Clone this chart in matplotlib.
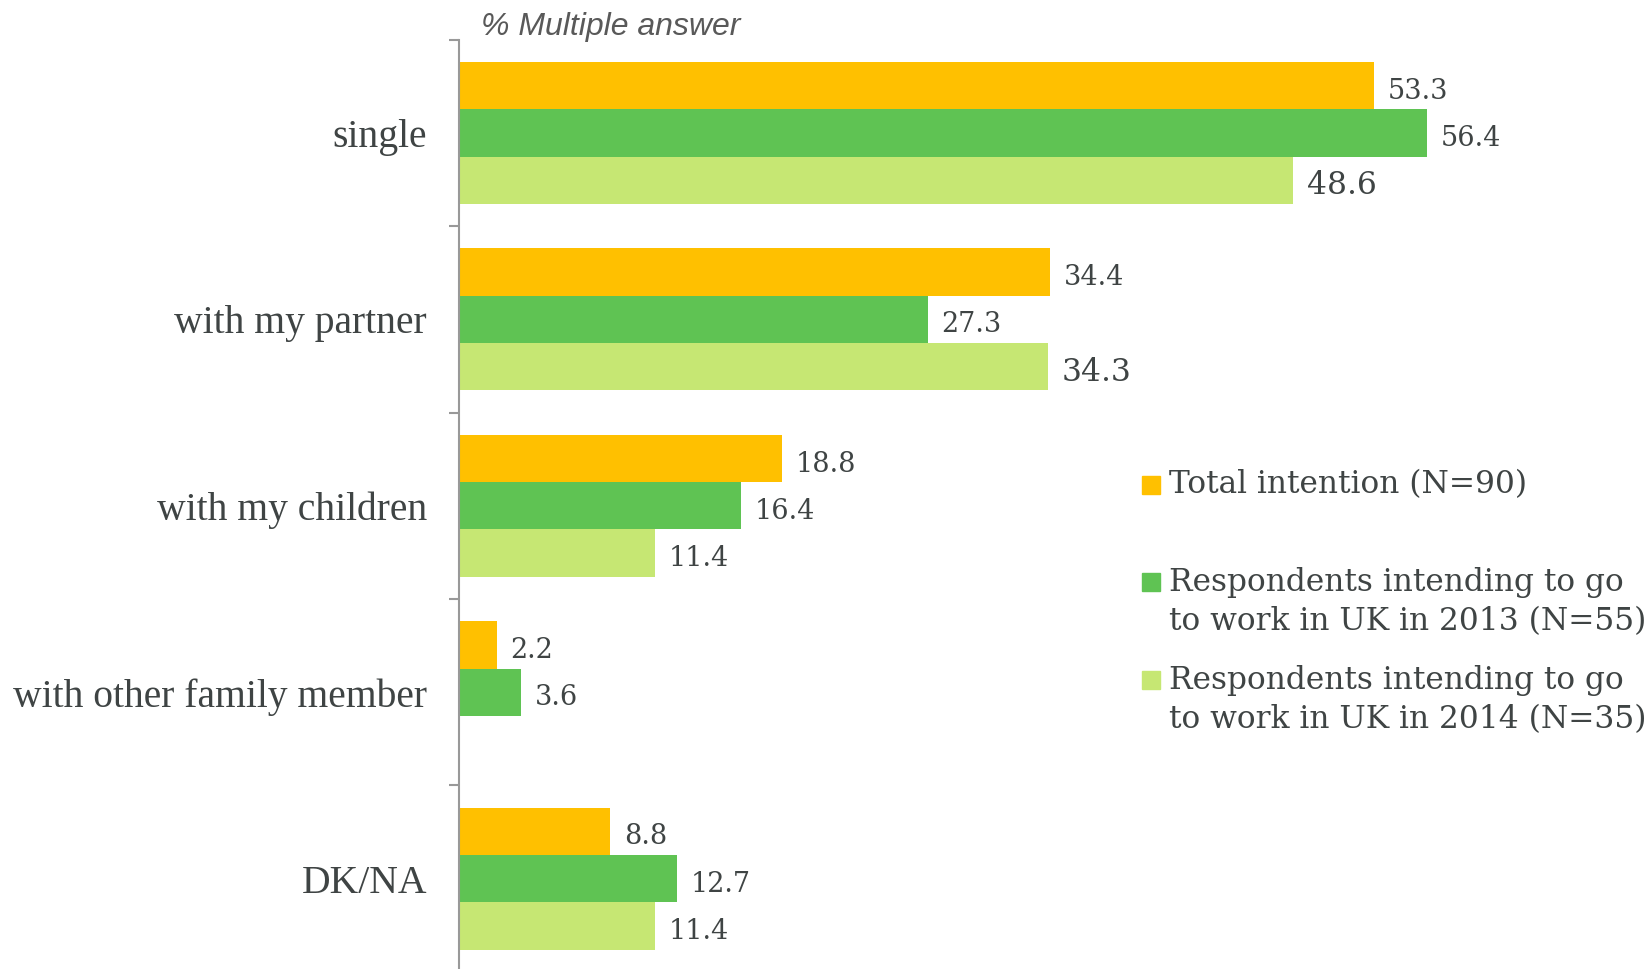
import matplotlib
matplotlib.use("Agg")
import matplotlib.pyplot as plt
from matplotlib.patches import Rectangle
import numpy as np

categories = ["single", "with my partner", "with my children",
              "with other family member", "DK/NA"]
series_names = ["Total intention (N=90)",
                "Respondents intending to go\nto work in UK in 2013 (N=55)",
                "Respondents intending to go\nto work in UK in 2014 (N=35)"]
total = [53.3, 34.4, 18.8, 2.2, 8.8]
uk2013 = [56.4, 27.3, 16.4, 3.6, 12.7]
uk2014 = [48.6, 34.3, 11.4, None, 11.4]

colors = ["#FFC000", "#5FC353", "#C6E773"]
txt = "#3F4444"

W, H = 1647, 969
fig = plt.figure(figsize=(W / 100, H / 100), dpi=100)
ax = fig.add_axes([459 / W, -0.003, 1 - 459 / W, 0.962])

bh = 0.254
y = np.arange(len(categories))
label_sizes = [19.5, 19.5, 22.5]
for i, (vals, c) in enumerate(zip([total, uk2013, uk2014], colors)):
    off = (i - 1) * bh
    for j, v in enumerate(vals):
        if v is None:
            continue
        ax.barh(y[j] + off, v, height=bh, color=c, edgecolor="none")
        size = label_sizes[i]
        if i == 2 and v < 20:
            size = 19.5
        ax.annotate(f"{v:.1f}", (v, y[j] + off), xytext=(10, -4),
                    textcoords="offset points", va="center", ha="left",
                    fontsize=size, color=txt, family="DejaVu Serif")

ax.set_xlim(0, 69.2)
ax.set_ylim(4.5, -0.5)
for s in ["top", "right", "bottom"]:
    ax.spines[s].set_visible(False)
ax.spines["left"].set_color("#999999")
ax.spines["left"].set_linewidth(1.5)
ax.set_xticks([])
ax.set_yticks(y)
ax.set_yticklabels(categories, family="Liberation Serif", fontsize=28.5, color=txt)
ax.tick_params(axis="y", which="major", length=0, pad=23)
ax.set_yticks(np.arange(-0.5, 5.0, 1.0), minor=True)
ax.tick_params(axis="y", which="minor", length=7.5, width=1.5, color="#999999",
               direction="out")

fig.text(481 / W, 1 - 27 / H, "% Multiple answer", style="italic",
         family="Liberation Sans", fontsize=23, color="#595959", va="center")

# legend
leg_y = [485, 602, 700]
for name, c, yy in zip(series_names, colors, leg_y):
    top = yy if "\n" not in name else yy - 20.5
    fig.patches.append(Rectangle((1142 / W, 1 - (top + 9) / H),
                                 18 / W, 18 / H, transform=fig.transFigure,
                                 color=c, edgecolor="none"))
    fig.text(1169 / W, 1 - yy / H, name, family="DejaVu Serif", fontsize=22.5,
             color=txt, va="center", ha="left", linespacing=1.3)

fig.savefig("out.png", dpi=100)
